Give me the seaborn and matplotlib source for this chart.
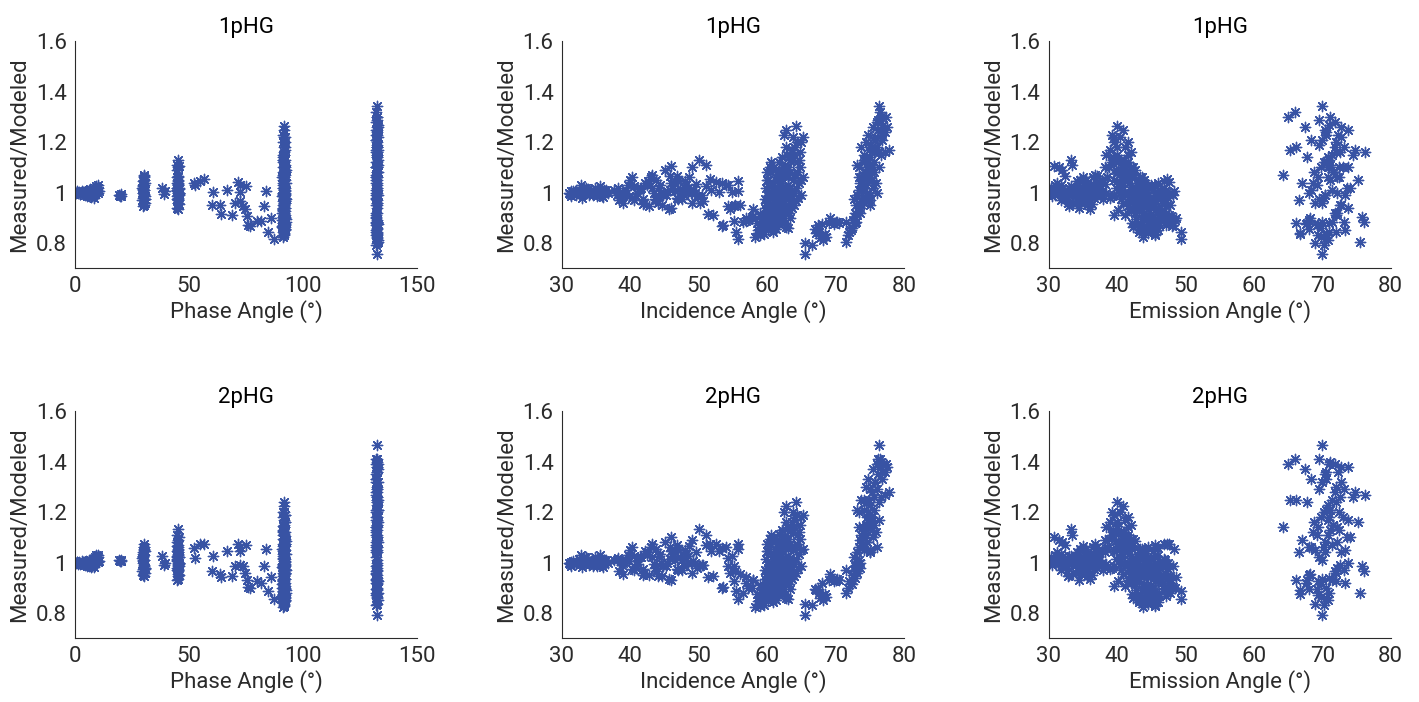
import matplotlib
matplotlib.use("Agg")
import matplotlib.pyplot as plt
import pandas as pd
import seaborn as sns

# each record: (phase, incidence, emission, ratio_1pHG, ratio_2pHG)
low_phase = [
    (0.3, 31.0, 30.2, 1.000, 1.000), (0.8, 31.4, 30.8, 1.005, 1.003),
    (1.3, 31.8, 31.3, 0.998, 0.996), (1.8, 32.2, 31.9, 1.002, 1.001),
    (2.3, 32.6, 32.4, 0.995, 0.995), (2.8, 32.9, 32.8, 1.008, 1.005),
    (3.3, 33.3, 33.2, 0.997, 0.994), (3.8, 33.6, 33.6, 1.003, 1.002),
    (4.3, 34.0, 34.0, 0.992, 0.990), (4.8, 34.3, 34.3, 1.006, 1.006),
    (5.2, 34.6, 34.6, 0.990, 0.988), (5.6, 34.9, 34.9, 1.002, 1.004),
    (6.0, 35.2, 35.2, 0.985, 0.986), (6.3, 35.4, 35.5, 1.008, 1.010),
    (6.7, 35.7, 35.8, 0.993, 0.995), (7.0, 36.0, 36.1, 0.982, 0.984),
    (7.3, 36.3, 36.4, 1.004, 1.008), (7.7, 32.1, 33.0, 0.990, 0.993),
    (8.0, 32.5, 33.8, 1.012, 1.015), (8.3, 33.0, 34.5, 0.980, 0.982),
    (8.6, 33.5, 35.0, 1.020, 1.022), (8.9, 34.5, 35.7, 0.995, 0.998),
    (9.2, 35.5, 36.2, 1.025, 1.028), (9.5, 36.5, 36.8, 1.010, 1.012),
    (9.8, 32.8, 31.0, 1.030, 1.030), (10.0, 34.8, 32.0, 1.018, 1.020),
    (10.3, 31.6, 33.4, 1.005, 1.008), (6.5, 33.8, 31.6, 1.015, 1.012),
    (5.0, 35.8, 30.5, 0.988, 0.990), (3.0, 36.8, 34.8, 1.000, 0.998),
    (1.0, 32.0, 34.2, 1.002, 1.001), (2.0, 33.0, 35.4, 0.996, 0.997),
    (3.5, 34.2, 36.2, 1.004, 1.003), (4.5, 35.0, 37.0, 0.998, 0.996),
    (6.0, 36.2, 31.2, 1.010, 1.010), (7.5, 31.4, 32.6, 0.985, 0.987),
    (8.5, 35.0, 33.4, 1.000, 1.003), (9.5, 33.2, 34.0, 1.020, 1.022),
    (10.0, 36.0, 35.0, 1.000, 1.004), (5.5, 31.2, 36.6, 0.994, 0.995),
]

mid_phase = [
    (19.3, 38.0, 31.0, 0.990, 1.010), (19.7, 38.6, 32.2, 0.985, 1.005),
    (20.0, 39.2, 33.0, 0.995, 1.012), (20.3, 39.8, 34.0, 0.988, 1.008),
    (29.5, 38.4, 34.8, 0.970, 0.965), (29.8, 39.0, 35.5, 1.000, 1.000),
    (30.0, 39.6, 36.0, 1.030, 1.030), (30.2, 40.2, 36.5, 1.060, 1.060),
    (30.5, 40.8, 37.0, 0.985, 0.980), (29.6, 41.4, 35.0, 1.015, 1.020),
    (30.4, 42.0, 33.6, 0.960, 0.960), (29.9, 42.6, 34.2, 1.045, 1.040),
    (30.1, 43.2, 36.8, 1.070, 1.075), (30.3, 38.8, 37.6, 0.995, 0.990),
    (29.7, 40.5, 33.2, 1.025, 1.025), (30.6, 41.8, 35.8, 0.975, 0.975),
    (30.0, 43.8, 34.6, 1.050, 1.055), (29.8, 39.4, 36.2, 1.010, 1.012),
    (38.2, 44.2, 37.2, 1.020, 1.025), (39.0, 44.8, 36.4, 0.995, 0.990),
    (39.5, 45.4, 37.8, 1.005, 1.000),
    (45.2, 50.0, 33.2, 1.130, 1.135), (44.8, 51.0, 33.4, 1.110, 1.110),
    (45.0, 49.0, 31.5, 1.100, 1.090), (45.5, 46.0, 30.8, 1.105, 1.100),
    (44.7, 45.0, 32.0, 1.090, 1.080), (44.6, 46.0, 34.5, 0.940, 0.930),
    (45.3, 45.6, 36.0, 0.935, 0.935), (45.0, 44.0, 32.8, 0.960, 0.945),
    (44.8, 47.0, 38.0, 0.975, 0.970), (45.5, 47.8, 39.5, 0.990, 0.985),
    (45.1, 48.5, 41.0, 1.000, 1.000), (44.7, 49.2, 42.5, 1.010, 1.005),
    (45.4, 41.5, 44.0, 1.020, 1.020), (44.9, 42.5, 45.5, 1.030, 1.030),
    (45.2, 43.5, 46.5, 1.000, 0.995), (45.6, 44.5, 47.5, 0.995, 1.000),
    (44.5, 46.5, 47.0, 1.005, 1.010), (45.3, 48.0, 40.0, 1.045, 1.050),
    (45.0, 43.0, 38.6, 1.060, 1.060), (44.8, 49.8, 39.2, 0.985, 0.980),
    (45.5, 47.3, 37.2, 1.015, 1.020),
    (29.6, 44.4, 31.8, 1.030, 1.035), (30.2, 45.2, 32.6, 0.990, 0.985),
    (30.4, 46.0, 35.2, 1.040, 1.045), (29.9, 46.8, 36.6, 0.980, 0.975),
    (30.1, 47.6, 37.4, 1.010, 1.012), (29.7, 48.4, 33.0, 1.020, 1.025),
    (30.3, 49.0, 34.0, 0.960, 0.958), (45.1, 47.0, 35.4, 1.050, 1.055),
    (44.9, 48.2, 36.0, 1.030, 1.035), (45.4, 49.4, 36.8, 1.000, 1.000),
    (44.6, 46.2, 33.8, 1.020, 1.025), (45.2, 44.8, 34.4, 0.990, 0.985),
    (45.0, 43.8, 35.6, 0.970, 0.965), (44.8, 42.2, 37.0, 1.040, 1.045),
    (45.5, 41.0, 38.4, 1.000, 0.995), (45.3, 40.2, 39.0, 0.980, 0.975),
    (44.7, 45.8, 40.5, 1.010, 1.015), (45.1, 47.5, 41.8, 0.975, 0.970),
    (45.6, 48.8, 43.0, 1.000, 1.000), (44.9, 50.5, 44.5, 0.990, 0.990),
    (29.8, 41.0, 31.6, 1.000, 1.005), (30.5, 43.6, 32.4, 0.975, 0.978),
    (29.5, 38.2, 33.8, 1.020, 1.018), (30.0, 37.6, 30.6, 1.010, 1.010),
    (45.2, 46.4, 31.2, 1.040, 1.040), (44.6, 43.2, 30.4, 1.020, 1.020),
    (30.2, 40.0, 37.8, 1.050, 1.050), (45.3, 39.0, 34.8, 0.960, 0.955),
    (29.9, 42.8, 33.0, 0.945, 0.950), (30.3, 44.6, 35.6, 0.950, 0.945),
    (45.0, 46.8, 32.4, 1.065, 1.070), (44.7, 48.6, 35.0, 1.060, 1.065),
    (45.4, 41.8, 36.4, 0.955, 0.950), (30.0, 45.8, 37.0, 1.065, 1.060),
    (44.9, 49.6, 38.2, 1.035, 1.040), (45.1, 40.6, 31.8, 0.970, 0.972),
]

scattered = [
    (52.1, 53.4, 46.0, 1.040, 1.057), (52.6, 54.3, 45.0, 1.030, 1.017),
    (54.8, 55.7, 46.8, 1.047, 1.073), (56.5, 51.6, 47.3, 1.053, 1.073),
    (60.1, 55.3, 44.5, 0.952, 0.965), (60.6, 54.9, 45.8, 1.004, 1.027),
    (63.6, 56.1, 44.2, 0.952, 0.956), (63.9, 51.3, 47.0, 0.915, 0.943),
    (66.5, 51.8, 45.2, 1.010, 1.046), (68.8, 52.1, 46.2, 0.912, 0.948),
    (70.3, 50.2, 44.8, 0.960, 0.985), (71.3, 52.5, 47.6, 1.042, 1.073),
    (72.1, 53.0, 43.8, 1.003, 1.044), (72.4, 54.0, 44.6, 1.030, 1.060),
    (72.1, 50.6, 46.6, 0.965, 0.989), (73.8, 54.3, 47.2, 0.948, 0.985),
    (74.6, 54.6, 43.6, 0.936, 0.958), (75.0, 51.0, 45.6, 1.028, 1.070),
    (75.3, 57.9, 47.9, 0.908, 0.932), (76.0, 53.5, 48.2, 0.872, 0.903),
    (76.8, 53.4, 48.0, 0.869, 0.899), (79.7, 55.1, 46.5, 0.886, 0.928),
    (81.4, 56.9, 47.6, 0.888, 0.918), (82.6, 55.1, 45.3, 0.945, 0.987),
    (83.6, 55.8, 48.3, 1.006, 1.053), (84.5, 55.5, 49.3, 0.843, 0.888),
    (85.8, 56.9, 48.6, 0.900, 0.943), (87.0, 55.8, 49.3, 0.816, 0.855),
]

phase_91 = [
    (91.2, 58.3, 43.8, 0.822, 0.825), (91.5, 58.7, 44.5, 0.840, 0.835),
    (91.8, 59.0, 45.6, 0.830, 0.828), (92.0, 59.3, 43.2, 0.855, 0.850),
    (90.8, 59.6, 44.0, 0.868, 0.862), (91.4, 58.5, 46.2, 0.880, 0.875),
    (92.3, 59.2, 42.8, 0.895, 0.890), (91.0, 57.8, 47.5, 0.905, 0.900),
    (91.6, 58.9, 45.0, 0.915, 0.912), (92.1, 60.2, 43.5, 0.850, 0.846),
    (91.3, 60.6, 44.8, 0.870, 0.868), (90.9, 61.0, 42.4, 0.865, 0.860),
    (91.7, 61.4, 45.2, 0.880, 0.876), (92.2, 61.8, 43.0, 0.875, 0.872),
    (91.1, 62.2, 44.2, 0.890, 0.885), (91.9, 62.8, 45.8, 0.862, 0.858),
    (91.5, 60.0, 46.8, 0.900, 0.896), (92.4, 56.5, 47.8, 0.885, 0.880),
    (90.7, 57.2, 48.5, 0.892, 0.900), (91.3, 58.0, 41.8, 0.935, 0.930),
    (91.6, 59.5, 41.2, 0.910, 0.905), (92.0, 59.9, 42.0, 0.925, 0.920),
    (91.2, 60.3, 42.6, 0.940, 0.935), (91.8, 60.7, 43.4, 0.955, 0.950),
    (90.9, 61.1, 44.0, 0.920, 0.915), (91.4, 61.5, 41.6, 0.945, 0.940),
    (92.2, 61.9, 42.2, 0.965, 0.960), (91.0, 62.3, 43.2, 0.930, 0.925),
    (91.7, 62.7, 44.6, 0.950, 0.945), (92.3, 63.1, 45.4, 0.975, 0.970),
    (91.5, 63.5, 42.8, 0.960, 0.955), (91.1, 60.1, 45.8, 0.985, 0.980),
    (91.9, 60.9, 46.4, 0.995, 0.990), (92.1, 61.7, 44.4, 0.990, 0.985),
    (90.8, 62.5, 43.6, 0.985, 0.982), (91.3, 63.3, 41.4, 0.995, 0.990),
    (91.6, 64.0, 44.8, 0.950, 0.945), (91.8, 64.5, 43.9, 0.980, 0.975),
    (92.0, 59.7, 40.6, 0.975, 0.970), (91.4, 61.3, 39.6, 0.910, 0.905),
    (91.2, 62.1, 40.2, 0.930, 0.925), (91.7, 60.5, 46.0, 0.930, 0.928),
    (92.2, 61.2, 47.0, 0.960, 0.958), (91.0, 62.0, 46.8, 0.905, 0.900),
    (91.5, 61.6, 45.5, 1.000, 0.998), (91.9, 62.4, 46.3, 1.005, 1.002),
    (91.3, 63.0, 47.2, 0.998, 0.996), (92.1, 62.9, 44.2, 1.010, 1.008),
    (91.6, 59.8, 40.4, 1.020, 1.015), (91.1, 60.2, 41.0, 1.050, 1.045),
    (92.0, 60.0, 41.8, 1.080, 1.075), (91.4, 60.4, 42.4, 1.100, 1.095),
    (91.8, 60.9, 43.0, 1.030, 1.025), (90.9, 61.3, 43.6, 1.060, 1.055),
    (92.3, 61.7, 39.8, 1.090, 1.085), (91.2, 62.1, 40.8, 1.040, 1.035),
    (91.7, 62.6, 41.4, 1.070, 1.065), (92.1, 63.0, 42.0, 1.100, 1.095),
    (91.0, 63.4, 42.6, 1.020, 1.018), (91.5, 63.8, 43.2, 1.050, 1.048),
    (91.9, 64.3, 40.0, 1.080, 1.075), (91.3, 64.8, 41.2, 1.100, 1.095),
    (92.2, 65.0, 44.0, 1.050, 1.050), (91.6, 65.2, 42.2, 1.060, 1.055),
    (91.4, 61.0, 38.8, 1.100, 1.095), (91.8, 62.3, 38.2, 1.100, 1.090),
    (91.5, 61.8, 40.2, 1.120, 1.115), (91.1, 62.2, 39.4, 1.140, 1.130),
    (92.0, 62.6, 41.0, 1.110, 1.105), (91.7, 62.9, 41.6, 1.150, 1.140),
    (91.3, 63.3, 40.6, 1.130, 1.125), (91.9, 63.6, 39.0, 1.170, 1.160),
    (91.2, 64.0, 40.0, 1.150, 1.145), (91.6, 64.0, 41.2, 1.180, 1.170),
    (92.1, 64.4, 39.6, 1.200, 1.190), (91.4, 63.8, 40.4, 1.220, 1.200),
    (91.8, 64.2, 40.0, 1.265, 1.240), (91.0, 62.5, 39.2, 1.230, 1.200),
    (91.5, 62.7, 40.8, 1.250, 1.225), (92.2, 65.3, 39.5, 1.220, 1.190),
    (91.3, 65.0, 41.6, 1.200, 1.180), (91.7, 64.8, 42.0, 1.160, 1.150),
    (92.0, 64.6, 41.0, 1.130, 1.120),
    (91.3, 59.4, 42.2, 0.880, 0.876), (91.8, 59.8, 43.6, 0.895, 0.890),
    (92.1, 60.4, 44.2, 0.905, 0.900), (91.0, 60.8, 45.4, 0.890, 0.886),
    (91.6, 61.2, 46.2, 0.870, 0.866), (92.2, 61.6, 43.8, 0.910, 0.906),
    (91.4, 62.0, 42.6, 0.920, 0.915), (91.9, 62.4, 45.0, 0.900, 0.895),
    (91.1, 62.8, 43.0, 0.940, 0.935), (91.7, 63.2, 44.0, 0.920, 0.915),
    (92.0, 63.6, 46.0, 0.940, 0.936), (91.2, 60.6, 41.4, 0.990, 0.985),
    (91.5, 61.0, 42.0, 1.010, 1.005), (91.8, 61.4, 42.8, 0.975, 0.970),
    (92.3, 61.8, 41.8, 1.040, 1.035), (91.0, 62.2, 41.2, 1.070, 1.065),
    (91.6, 62.6, 42.4, 1.010, 1.005), (91.3, 63.0, 43.8, 1.030, 1.025),
    (91.9, 63.4, 40.8, 1.080, 1.075), (92.1, 63.8, 41.8, 1.000, 0.995),
    (91.4, 64.2, 42.8, 1.020, 1.015), (91.7, 60.0, 39.6, 1.050, 1.045),
    (91.2, 60.4, 40.2, 1.080, 1.075), (92.0, 59.9, 44.6, 0.960, 0.955),
    (91.5, 60.7, 45.2, 0.940, 0.935), (91.1, 61.5, 46.6, 0.925, 0.920),
    (91.8, 62.1, 47.6, 0.910, 0.905), (91.4, 59.1, 46.0, 0.850, 0.845),
    (92.2, 58.8, 44.8, 0.870, 0.865), (91.6, 59.6, 45.6, 0.835, 0.832),
    (91.0, 60.9, 43.2, 0.845, 0.842), (91.9, 61.3, 44.6, 0.855, 0.852),
    (91.3, 62.6, 45.6, 0.880, 0.876), (91.7, 61.0, 40.8, 0.960, 0.955),
    (92.1, 62.0, 39.8, 1.020, 1.015), (91.2, 63.8, 39.4, 1.130, 1.120),
    (91.5, 64.6, 40.6, 1.040, 1.035), (91.8, 65.0, 42.8, 0.990, 0.985),
    (92.0, 64.2, 45.6, 0.965, 0.960), (91.4, 63.2, 46.8, 1.020, 1.015),
    (91.1, 60.8, 47.8, 0.950, 0.945), (91.6, 62.4, 48.2, 0.990, 0.985),
    (91.9, 63.6, 47.5, 0.980, 0.975), (91.3, 61.9, 38.6, 1.060, 1.055),
    (91.7, 63.4, 38.4, 1.150, 1.140), (92.2, 62.8, 40.0, 1.180, 1.160),
    (91.4, 60.3, 43.0, 0.990, 0.986), (91.8, 60.8, 44.0, 1.040, 1.036),
    (91.1, 61.2, 45.0, 1.020, 1.016), (92.0, 61.6, 46.0, 0.975, 0.972),
    (91.5, 62.0, 43.4, 1.060, 1.055), (91.2, 62.5, 44.4, 0.965, 0.960),
    (91.9, 62.9, 42.6, 1.090, 1.085), (91.6, 63.3, 45.2, 0.900, 0.896),
    (91.3, 60.5, 42.8, 1.000, 0.995), (92.1, 61.1, 41.0, 1.090, 1.085),
    (91.0, 61.5, 42.4, 0.935, 0.930), (91.7, 59.4, 44.4, 0.900, 0.895),
    (91.4, 59.7, 43.0, 0.940, 0.935), (91.8, 60.1, 47.2, 0.870, 0.866),
    (91.2, 61.7, 47.4, 0.890, 0.886), (92.2, 62.3, 46.0, 0.940, 0.936),
    (91.6, 58.6, 43.4, 0.850, 0.846), (91.0, 63.0, 44.8, 0.860, 0.856),
    (91.5, 64.4, 41.6, 1.120, 1.110), (91.9, 63.9, 42.2, 1.070, 1.065),
    (91.3, 60.6, 39.2, 1.120, 1.110), (91.7, 61.4, 40.4, 1.000, 0.995),
    (92.0, 62.7, 43.2, 0.980, 0.975), (91.1, 63.1, 41.0, 1.060, 1.055),
]

phase_132 = [
    (132.5, 65.5, 70.0, 0.757, 0.790), (132.2, 65.6, 69.0, 0.800, 0.835),
    (132.0, 66.6, 70.3, 0.790, 0.830), (132.3, 67.2, 66.7, 0.840, 0.890),
    (132.1, 67.5, 69.2, 0.870, 0.895), (132.4, 67.8, 70.6, 0.820, 0.860),
    (131.9, 68.0, 69.4, 0.830, 0.870), (132.6, 68.2, 70.8, 0.810, 0.850),
    (132.2, 68.4, 66.8, 0.835, 0.875), (132.0, 67.6, 71.0, 0.845, 0.880),
    (132.5, 68.6, 69.8, 0.825, 0.865), (132.3, 69.0, 67.8, 0.880, 0.930),
    (132.1, 69.2, 68.2, 0.900, 0.955), (132.4, 70.0, 71.5, 0.885, 0.930),
    (132.0, 70.5, 66.2, 0.880, 0.930), (132.6, 71.5, 75.5, 0.805, 0.880),
    (132.2, 71.5, 73.2, 0.885, 0.970), (132.4, 72.0, 72.0, 0.845, 0.925),
    (131.9, 72.2, 73.3, 0.850, 0.920), (132.3, 72.6, 68.0, 0.890, 0.950),
    (132.1, 72.8, 71.8, 0.920, 0.965), (132.5, 73.0, 72.6, 0.950, 0.990),
    (132.0, 72.7, 69.6, 0.975, 1.020), (132.4, 73.2, 70.4, 0.990, 1.040),
    (132.2, 73.4, 68.4, 1.010, 1.060), (132.6, 73.2, 71.2, 1.110, 1.210),
    (132.1, 73.5, 72.4, 1.100, 1.200), (132.3, 73.6, 67.0, 1.040, 1.090),
    (131.9, 73.8, 70.8, 1.060, 1.110), (132.5, 74.0, 73.6, 1.020, 1.100),
    (132.2, 74.2, 69.0, 0.960, 1.050), (132.4, 74.4, 71.6, 1.080, 1.150),
    (132.0, 74.6, 72.2, 1.000, 1.080), (132.3, 74.8, 70.2, 1.120, 1.200),
    (132.6, 74.9, 65.3, 1.170, 1.250), (132.1, 75.0, 72.8, 0.950, 1.040),
    (132.4, 74.2, 71.4, 1.150, 1.250), (132.2, 74.5, 72.0, 1.200, 1.300),
    (132.0, 74.8, 70.6, 1.230, 1.330), (132.5, 75.0, 69.5, 1.190, 1.290),
    (132.3, 75.2, 73.0, 1.100, 1.180), (132.1, 75.4, 71.2, 1.050, 1.130),
    (132.6, 75.5, 67.5, 1.260, 1.370), (132.2, 75.6, 72.6, 1.160, 1.260),
    (131.9, 75.8, 70.0, 1.210, 1.320), (132.4, 76.0, 68.0, 1.000, 1.060),
    (132.0, 76.1, 71.8, 1.280, 1.390), (132.3, 76.2, 69.5, 1.290, 1.410),
    (132.5, 76.4, 70.0, 1.345, 1.465), (132.1, 76.5, 66.0, 1.320, 1.410),
    (132.4, 76.6, 73.8, 1.250, 1.380), (132.2, 76.8, 72.3, 1.230, 1.360),
    (132.6, 77.0, 71.0, 1.270, 1.390), (132.0, 77.2, 76.2, 1.160, 1.270),
    (132.3, 77.4, 65.0, 1.300, 1.390), (132.5, 77.6, 72.8, 1.260, 1.380),
    (132.1, 77.8, 74.8, 1.170, 1.280), (132.4, 76.3, 70.8, 1.100, 1.170),
    (132.2, 75.7, 71.6, 1.080, 1.150), (132.0, 72.9, 75.8, 0.905, 0.985),
    (132.3, 73.0, 76.1, 0.885, 0.965), (132.5, 74.7, 75.3, 1.050, 1.160),
    (132.1, 74.0, 64.3, 1.070, 1.140), (132.4, 73.8, 66.2, 1.180, 1.250),
    (132.2, 74.4, 67.8, 1.140, 1.240), (132.0, 75.9, 68.6, 1.040, 1.120),
    (132.6, 74.6, 70.4, 0.990, 1.080), (132.3, 73.6, 72.2, 0.920, 0.980),
    (132.1, 75.1, 73.4, 0.990, 1.050), (132.4, 76.7, 74.5, 1.150, 1.260),
    (132.2, 75.3, 71.0, 1.100, 1.180),
    (132.3, 73.4, 70.0, 0.960, 1.010), (132.1, 73.8, 71.4, 1.010, 1.070),
    (132.5, 74.2, 72.4, 1.060, 1.130), (132.0, 74.6, 69.8, 1.100, 1.180),
    (132.4, 75.0, 70.8, 1.140, 1.230), (132.2, 75.4, 71.8, 1.180, 1.280),
    (132.6, 75.8, 72.8, 1.220, 1.320), (132.1, 76.2, 70.4, 1.250, 1.350),
    (132.3, 76.6, 71.2, 1.300, 1.400), (132.5, 73.6, 73.8, 0.940, 1.000),
    (132.0, 74.0, 70.2, 0.980, 1.060), (132.4, 74.4, 69.2, 1.030, 1.110),
    (132.2, 74.8, 72.2, 1.060, 1.140), (132.6, 75.2, 68.8, 1.080, 1.160),
    (132.1, 75.6, 70.6, 1.120, 1.210), (132.3, 76.0, 73.2, 1.180, 1.290),
    (132.5, 72.8, 71.0, 0.880, 0.940), (132.0, 73.2, 72.0, 0.910, 0.960),
    (132.4, 72.4, 69.8, 0.860, 0.915), (132.2, 71.8, 70.6, 0.830, 0.900),
    (132.6, 69.8, 69.4, 0.875, 0.925), (132.1, 70.2, 70.0, 0.885, 0.935),
    (132.3, 67.0, 68.0, 0.855, 0.895), (132.5, 68.0, 67.6, 0.875, 0.920),
    (132.0, 76.8, 68.4, 1.210, 1.330), (132.4, 77.3, 70.6, 1.240, 1.360),
    (132.2, 75.5, 74.0, 1.020, 1.100), (132.6, 74.1, 71.0, 1.130, 1.210),
    (132.1, 73.4, 69.4, 1.060, 1.140), (132.3, 75.0, 66.6, 0.970, 1.040),
    (132.5, 76.4, 72.0, 1.160, 1.240), (132.0, 74.9, 73.8, 1.100, 1.170),
]

models = ["1pHG", "2pHG"]
angle_cols = ["phase", "incidence", "emission"]
angle_labels = ["Phase Angle (°)", "Incidence Angle (°)", "Emission Angle (°)"]

df = pd.DataFrame(low_phase + mid_phase + scattered + phase_91 + phase_132,
                  columns=["phase", "incidence", "emission", "1pHG", "2pHG"])

sns.set_style("white")
plt.rcParams["font.family"] = ["Roboto", "DejaVu Sans"]

blue = "#3853A4"
ink = "#2b2b2b"

fig = plt.figure(figsize=(14.19, 7.02), dpi=100)
lefts = [0.053, 0.396, 0.739]
bottoms = [0.618, 0.091]

for r, model in enumerate(models):
    for c, col in enumerate(angle_cols):
        ax = fig.add_axes([lefts[c], bottoms[r], 0.241, 0.323])
        sns.scatterplot(data=df, x=col, y=model, ax=ax, marker=(8, 2, 0),
                        color=blue, s=55, linewidth=1.0)
        ax.set_ylim(0.7, 1.6)
        ax.set_yticks([0.8, 1.0, 1.2, 1.4, 1.6])
        ax.set_yticklabels(["0.8", "1", "1.2", "1.4", "1.6"])
        if col == "phase":
            ax.set_xlim(0, 150)
            ax.set_xticks([0, 50, 100, 150])
        else:
            ax.set_xlim(30, 80)
            ax.set_xticks([30, 40, 50, 60, 70, 80])
        ax.set_title(model, fontsize=16, color="black", pad=6)
        ax.set_xlabel(angle_labels[c], fontsize=16, color=ink, labelpad=2)
        ax.set_ylabel("Measured/Modeled", fontsize=16, color=ink, labelpad=4)
        ax.tick_params(direction="in", length=4, width=0.8, colors=ink,
                       labelsize=16, pad=6)
        sns.despine(ax=ax)
        for side in ["left", "bottom"]:
            ax.spines[side].set_color(ink)
            ax.spines[side].set_linewidth(0.8)

fig.savefig("out.png", dpi=100)
